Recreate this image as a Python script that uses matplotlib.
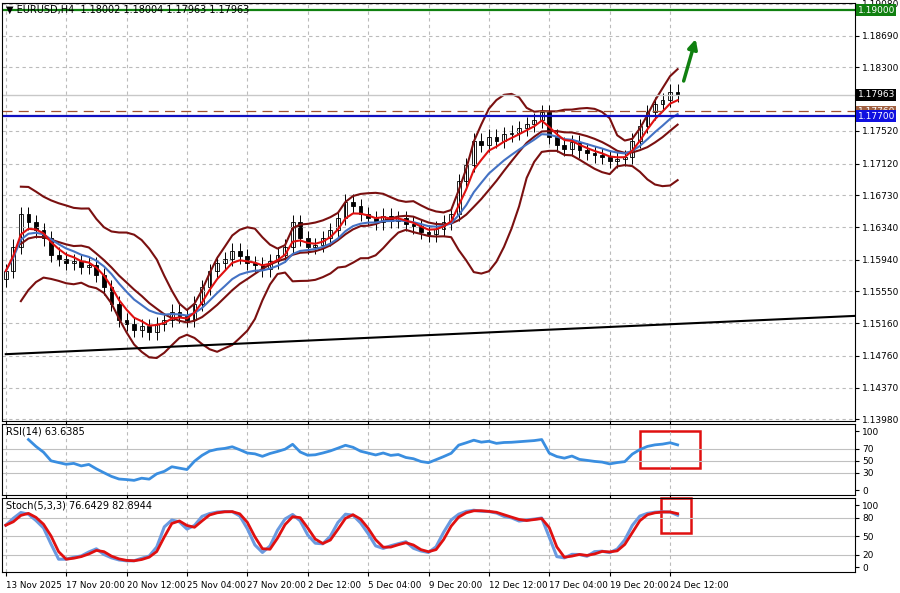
import matplotlib
matplotlib.use("Agg")
import matplotlib.pyplot as plt
import numpy as np
import pandas as pd

closes = [1.1580,1.1610,1.1650,1.1640,1.1630,1.1620,1.1600,1.1595,1.1590,1.1592,
          1.1585,1.1588,1.1575,1.1560,1.1540,1.1520,1.1515,1.1508,1.1512,1.1505,
          1.1515,1.1520,1.1530,1.1525,1.1520,1.1540,1.1560,1.1580,1.1590,1.1595,
          1.1605,1.1598,1.1590,1.1588,1.1582,1.1592,1.1600,1.1610,1.1640,1.1620,
          1.1610,1.1612,1.1620,1.1630,1.1645,1.1665,1.1660,1.1650,1.1645,1.1640,
          1.1648,1.1642,1.1645,1.1638,1.1635,1.1628,1.1625,1.1632,1.1640,1.1650,
          1.1690,1.1710,1.1740,1.1735,1.1745,1.1740,1.1748,1.1750,1.1755,1.1760,
          1.1765,1.1775,1.1745,1.1735,1.1730,1.1738,1.1728,1.1725,1.1722,1.1720,
          1.1715,1.1718,1.1720,1.1740,1.1758,1.1775,1.1785,1.1790,1.1800,1.1796]
first_open = 1.1570
wick = 0.0009
time_labels = ["13 Nov 2025","17 Nov 20:00","20 Nov 12:00","25 Nov 04:00","27 Nov 20:00",
               "2 Dec 12:00","5 Dec 04:00","9 Dec 20:00","12 Dec 12:00","17 Dec 04:00",
               "19 Dec 20:00","24 Dec 12:00"]
price_ticks = [1.19080,1.18690,1.18300,1.17520,1.17120,1.16730,1.16340,1.15940,1.15550,
               1.15160,1.14760,1.14370,1.13980]
level_green = 1.19000
level_blue = 1.17700
level_brown = 1.17760
last_price = 1.17963
trend_start, trend_end = 1.1478, 1.1525
rsi_label = "RSI(14) 63.6385"
stoch_label = "Stoch(5,3,3) 76.6429 82.8944"

c = pd.Series(closes)
o = pd.Series([first_open] + closes[:-1])
h = np.maximum(o, c) + wick
l = np.minimum(o, c) - wick
n = len(c)
x = np.arange(n)
XMAX = 855/7.6

mid = c.rolling(10, min_periods=3).mean()
sd = c.rolling(10, min_periods=3).std()
ema5 = c.ewm(span=4, adjust=True).mean()
ma10 = c.ewm(span=9, adjust=True).mean()

d = c.diff().fillna(0)
up = d.clip(lower=0).ewm(alpha=1/10, adjust=True).mean()
dn = (-d.clip(upper=0)).ewm(alpha=1/10, adjust=True).mean()
rsi = 100 - 100/(1 + up/dn.replace(0, 1e-9))
rsi = rsi.where(x >= 3)
hh = pd.Series(h).rolling(5, min_periods=1).max()
ll = pd.Series(l).rolling(5, min_periods=1).min()
k = ((c - ll).rolling(2, min_periods=1).sum() / (hh - ll).rolling(2, min_periods=1).sum()) * 100
sig = k.rolling(2, min_periods=1).mean()

fig = plt.figure(figsize=(9, 5.93), dpi=100)
W, H = 900, 593
def ax_at(top, bot):
    return fig.add_axes([2/W, 1-bot/H, 853/W, (bot-top)/H])
ax = ax_at(3, 421)
ax2 = ax_at(424, 495)
ax3 = ax_at(498, 572)

ticks_x = np.arange(0, n, 8)
for a in (ax, ax2, ax3):
    a.set_xlim(-0.5, XMAX)
    a.set_xticks(ticks_x)
    a.grid(True, axis='x', color='#bbbbbb', linestyle=(0, (3, 3)), lw=0.8)
    a.yaxis.tick_right()
    a.tick_params(axis='y', labelsize=6.5, length=3, pad=2)
    a.tick_params(axis='x', length=3)
    for s in a.spines.values():
        s.set_color('black'); s.set_linewidth(0.8)
    a.set_xticklabels([])

ax.set_ylim(1.1396, 1.1909)
ax.set_yticks(price_ticks)
ax.set_yticklabels([f"{t:.5f}" for t in price_ticks])
ax.grid(True, axis='y', color='#bbbbbb', linestyle=(0, (3, 3)), lw=0.8)

for i in range(n):
    ax.vlines(x[i], l[i], h[i], color='black', lw=0.7)
    lo, hi = min(o[i], c[i]), max(o[i], c[i])
    ax.bar(x[i], max(hi-lo, 0.00005), bottom=lo, width=0.5,
           color='white' if c[i] >= o[i] else 'black', edgecolor='black', lw=0.6)

ax.plot(x, mid + 2*sd, color='#7a1010', lw=1.5)
ax.plot(x, mid - 2*sd, color='#7a1010', lw=1.5)
ax.plot(x, mid, color='#7a1010', lw=1.5)
ax.plot(x, ma10, color='#4472c4', lw=1.5)
ax.plot(x, ema5, color='#e01010', lw=1.5)

ax.plot([0, XMAX], [trend_start, trend_end], color='black', lw=1.5)
ax.axhline(level_green, color='#108010', lw=1.6)
ax.axhline(level_blue, color='#1010c0', lw=1.6)
ax.axhline(level_brown, color='#a05030', lw=0.9, ls=(0, (8, 5)))
ax.axhline(last_price, color='#c8c8c8', lw=1)
ax.annotate("", xy=(91.5, 1.1868), xytext=(89.7, 1.1810),
            arrowprops=dict(arrowstyle='-|>', color='#108010', lw=2.5, mutation_scale=14))
def tag(y, txt, fc, tc='white'):
    ax.text(1.003, y, txt, transform=ax.get_yaxis_transform(), fontsize=6.5, color=tc,
            va='center', ha='left', bbox=dict(boxstyle='square,pad=0.15', fc=fc, ec='none'))
tag(level_green, f"{level_green:.5f}", '#108010')
tag(level_brown, f"{level_brown:.5f}", '#a06040')
tag(last_price, f"{last_price:.5f}", 'black')
tag(level_blue, f"{level_blue:.5f}", '#1010e0')
ax.text(0.005, 0.995, "▼ EURUSD,H4  1.18002 1.18004 1.17963 1.17963", transform=ax.transAxes,
        fontsize=7, va='top', ha='left')

ax2.set_ylim(-8, 112)
ax2.set_yticks([0, 30, 50, 70, 100])
ax2.set_yticklabels(['0', '30', '50', '70', '100'])
for v in (30, 50, 70):
    ax2.axhline(v, color='#c0c0c0', lw=0.8)
ax2.plot(x, rsi, color='#3a8ee0', lw=2)
ax2.text(0.005, 0.96, rsi_label, transform=ax2.transAxes, fontsize=7, va='top')
ax2.add_patch(plt.Rectangle((84, 38), 8, 62, fill=False, ec='#e01010', lw=1.8, clip_on=False))

ax3.set_ylim(-8, 112)
ax3.set_yticks([0, 20, 50, 80, 100])
ax3.set_yticklabels(['0', '20', '50', '80', '100'])
for v in (20, 50, 80):
    ax3.axhline(v, color='#c0c0c0', lw=0.8)
ax3.plot(x, k, color='#6a9ae0', lw=2.2)
ax3.plot(x, sig, color='#e01010', lw=2)
ax3.text(0.005, 0.96, stoch_label, transform=ax3.transAxes, fontsize=7, va='top')
ax3.add_patch(plt.Rectangle((86.8, 55), 4, 57, fill=False, ec='#e01010', lw=1.8, clip_on=False))
ax3.set_xticklabels(time_labels, fontsize=6.3)
for lab in ax3.get_xticklabels():
    lab.set_horizontalalignment('left')

fig.savefig("out.png", dpi=100)
